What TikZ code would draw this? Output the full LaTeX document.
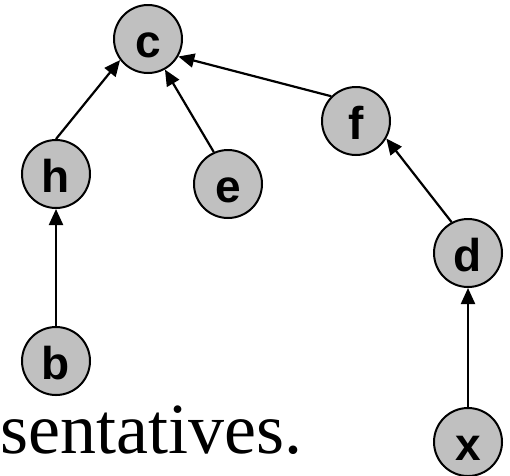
\documentclass[tikz,border=0pt]{standalone}
\usepackage{fontspec}
\setmainfont{Liberation Serif}
\newfontfamily\vertexfont{Liberation Sans}
\usetikzlibrary{arrows.meta}
\definecolor{silvergray}{RGB}{192, 192, 192}

\begin{document}
\begin{tikzpicture}[x=1pt, y=-1pt,
  vertex/.style={circle, draw, fill=silvergray, line width=2pt,
    minimum size=68pt, inner sep=0pt, text height=37pt, text depth=0pt,
    font=\vertexfont\bfseries\fontsize{46}{46}\selectfont},
  link/.style={line width=2.2pt, -{Triangle[length=16pt, width=14pt]}}]

  \useasboundingbox (0,0) rectangle (510,475);

  \draw[]
   (148,39) node[vertex](c) {c}
   (56,174) node[vertex](h) {h}
   (228,184) node[vertex](e) {e}
   (356,121) node[vertex](f) {f}
   (468,253) node[vertex](d) {d}
   (56,361) node[vertex](b) {b}
   (468,442) node[vertex](x) {x};

  \draw[link] (h.north) -- (c.217);
  \draw[link] (e.114) -- (c.299);
  \draw[link] (f.135) -- (c.330);
  \draw[link] (d.118) -- (f.330);
  \draw[link] (b) -- (h);
  \draw[link] (x) -- (d);

  %text running under the tree
  \node[anchor=base west, inner sep=0pt, font=\fontsize{72}{72}\selectfont]
   (caption) at (0,453) {sentatives.};
\end{tikzpicture}
\end{document}
